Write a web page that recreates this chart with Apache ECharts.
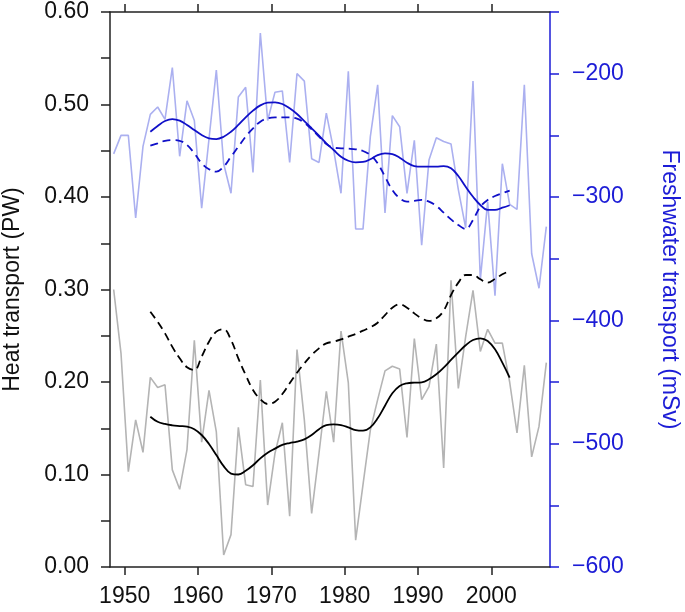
<!DOCTYPE html>
<html>
<head>
<meta charset="utf-8">
<script src="https://cdn.jsdelivr.net/npm/echarts@6.0.0/dist/echarts.min.js"></script>
<style>
html,body{margin:0;padding:0;background:#fff;}
#c{width:685px;height:612px;}
</style>
</head>
<body>
<div id="c"></div>
<script>
// Annual years (plotted at mid-year)
var years = [];
for (var y = 1948; y <= 2007; y++) years.push(y);

// Annual heat transport (PW), grey
var heatAnnual = [0.300,0.231,0.103,0.159,0.124,0.205,0.194,0.197,0.105,0.084,
  0.127,0.245,0.135,0.191,0.146,0.013,0.035,0.151,0.089,0.087,
  0.202,0.067,0.123,0.156,0.055,0.235,0.159,0.058,0.123,0.190,
  0.135,0.255,0.199,0.029,0.089,0.148,0.181,0.212,0.217,0.214,
  0.140,0.247,0.181,0.195,0.241,0.107,0.310,0.193,0.249,0.299,
  0.233,0.257,0.242,0.242,0.200,0.145,0.218,0.119,0.152,0.221];

// Annual freshwater transport (mSv), light blue
var fwAnnual = [-265,-250,-250,-317,-259,-233,-227,-237,-195,-267,
  -222,-238,-309,-253,-197,-273,-297,-219,-211,-280,
  -167,-238,-215,-214,-272,-200,-206,-269,-272,-232,
  -262,-297,-198,-326,-326,-251,-209,-313,-234,-243,
  -297,-254,-339,-270,-252,-255,-257,-294,-325,-206,
  -367,-304,-380,-273,-306,-310,-209,-346,-374,-324];

// Smoothed years
var smoothYears = [];
for (var s = 1953; s <= 2002; s++) smoothYears.push(s);

// Smoothed heat transport, solid black
var heatSmooth = [0.1625,0.157,0.1546,0.1532,0.1524,0.1517,0.149,0.1427,0.133,0.121,
  0.109,0.101,0.100,0.104,0.110,0.1175,0.1236,0.128,0.132,0.134,
  0.1355,0.138,0.1427,0.149,0.1535,0.1542,0.1535,0.151,0.148,0.1474,
  0.151,0.1607,0.1744,0.1878,0.1957,0.1986,0.1993,0.1997,0.2029,0.2083,
  0.2155,0.2238,0.2321,0.2397,0.2454,0.2472,0.2443,0.2353,0.2209,0.2047];

// Smoothed heat transport, dashed black
var heatDashed = [0.276,0.265,0.2526,0.238,0.2256,0.2159,0.213,0.2274,0.2436,0.2544,
  0.257,0.2454,0.2256,0.2076,0.1914,0.1813,0.1762,0.1787,0.187,0.1986,
  0.210,0.2202,0.2292,0.2364,0.2418,0.2436,0.2461,0.249,0.2519,0.2555,
  0.2591,0.2641,0.2724,0.2803,0.284,0.2803,0.2742,0.2688,0.266,0.2688,
  0.2771,0.294,0.3074,0.3157,0.3157,0.311,0.3074,0.3114,0.3164,0.320];

// Smoothed freshwater transport, solid blue
var fwSmooth = [-247.1,-242.4,-238.4,-236.8,-238.1,-241.6,-245.7,-249.7,-252.4,-253,
  -251.1,-247.1,-241.6,-235.4,-230,-225.7,-223.5,-223.2,-224.6,-228.1,
  -232.7,-238.4,-244.3,-250.3,-256.5,-261.9,-267.3,-270.6,-271.9,-271.6,
  -269.4,-266,-264.6,-265.2,-268.1,-272.2,-274.9,-275.4,-275.4,-275.4,
  -274.9,-276.7,-283,-291.7,-299.8,-306.5,-310.5,-310.5,-308.7,-306.7];

// Smoothed freshwater transport, dashed blue
var fwDashed = [-258.4,-256.5,-254.4,-253.8,-254.4,-257.8,-264.6,-272.7,-277.5,-279.5,
  -275.4,-267.3,-259.2,-251.1,-244.3,-238.9,-236.2,-235.4,-235.4,-235.4,
  -236.5,-239.8,-245.1,-251.1,-257,-260,-260.5,-260.8,-261.3,-262.7,
  -266,-272.7,-283.5,-294.3,-301,-303.8,-303.2,-302.4,-303.8,-307.3,
  -312.7,-318.1,-322.7,-325.9,-318.6,-307.9,-302.4,-299.2,-297,-294.9];

// Tick labels
var xTickYears = [1950,1960,1970,1980,1990,2000];
var heatTickLabels = [0,0.1,0.2,0.3,0.4,0.5,0.6];
var fwTickLabels = [-600,-500,-400,-300,-200];

function pair(xs, vs) {
  return vs.map(function (v, i) { return [xs[i] + 0.5, v]; });
}

var FONT = 'Liberation Sans, Arial, Helvetica, sans-serif';
var BLUE = '#1c1cd6';
var chart = echarts.init(document.getElementById('c'), null, {renderer: 'canvas'});

var option = {
  animation: false,
  backgroundColor: '#ffffff',
  grid: {left: 110, right: 135, top: 12, bottom: 45, containLabel: false, outerBoundsMode: 'none'},
  xAxis: [{
    type: 'value', min: 1948, max: 2008, position: 'bottom',
    axisLine: {show: true, lineStyle: {color: '#222', width: 1.5}},
    axisTick: {show: true, inside: false, length: 8, lineStyle: {color: '#222', width: 1.5}, customValues: xTickYears},
    axisLabel: {show: true, margin: 18, fontSize: 23, color: '#111', fontFamily: FONT, customValues: xTickYears,
      formatter: function (v) { return String(Math.round(v)); }},
    splitLine: {show: false}
  }, {
    type: 'value', min: 1948, max: 2008, position: 'top',
    axisLine: {show: true, lineStyle: {color: '#222', width: 1.5}},
    axisTick: {show: true, inside: false, length: 8, lineStyle: {color: '#222', width: 1.5}, customValues: xTickYears},
    axisLabel: {show: false},
    splitLine: {show: false}
  }],
  yAxis: [{
    type: 'value', min: 0, max: 0.6, interval: 0.05, position: 'left',
    name: 'Heat transport (PW)', nameLocation: 'middle', nameGap: 86,
    nameTextStyle: {fontSize: 23, color: '#111', fontFamily: FONT},
    axisLine: {show: true, lineStyle: {color: '#222', width: 1.5}},
    axisTick: {show: true, inside: false, length: 9, lineStyle: {color: '#222', width: 1.5}},
    axisLabel: {show: true, margin: 21, fontSize: 23, color: '#111', fontFamily: FONT,
      formatter: function (v) {
        var r = Math.round(v * 100);
        if (r % 10 !== 0) return '';
        return heatTickLabels.indexOf(r / 100) >= 0 ? (r / 100).toFixed(2) : '';
      }},
    splitLine: {show: false}
  }, {
    type: 'value', min: -600, max: -150, interval: 50, position: 'right',
    name: 'Freshwater transport (mSv)', nameLocation: 'middle', nameGap: 108, nameRotate: -90,
    nameTextStyle: {fontSize: 23, color: BLUE, fontFamily: FONT},
    axisLine: {show: true, lineStyle: {color: BLUE, width: 1.5}},
    axisTick: {show: true, inside: false, length: 9, lineStyle: {color: BLUE, width: 1.5}},
    axisLabel: {show: true, margin: 22, fontSize: 23, color: BLUE, fontFamily: FONT,
      formatter: function (v) {
        var r = Math.round(v);
        return fwTickLabels.indexOf(r) >= 0 ? '\u2212' + Math.abs(r) : '';
      }},
    splitLine: {show: false}
  }],
  series: [{
    type: 'line', name: 'FW annual', yAxisIndex: 1, data: pair(years, fwAnnual),
    symbol: 'none', lineStyle: {color: '#abb0f0', width: 1.6}, z: 1
  }, {
    type: 'line', name: 'Heat annual', yAxisIndex: 0, data: pair(years, heatAnnual),
    symbol: 'none', lineStyle: {color: '#b4b4b4', width: 1.6}, z: 1
  }, {
    type: 'line', name: 'Heat smooth', yAxisIndex: 0, data: pair(smoothYears, heatSmooth),
    symbol: 'none', smooth: 0.4, lineStyle: {color: '#000', width: 1.8}, z: 3
  }, {
    type: 'line', name: 'Heat dashed', yAxisIndex: 0, data: pair(smoothYears, heatDashed),
    symbol: 'none', smooth: 0.4, lineStyle: {color: '#000', width: 1.8, type: [8, 5]}, z: 3
  }, {
    type: 'line', name: 'FW smooth', yAxisIndex: 1, data: pair(smoothYears, fwSmooth),
    symbol: 'none', smooth: 0.4, lineStyle: {color: '#1010c8', width: 1.8}, z: 3
  }, {
    type: 'line', name: 'FW dashed', yAxisIndex: 1, data: pair(smoothYears, fwDashed),
    symbol: 'none', smooth: 0.4, lineStyle: {color: '#1010c8', width: 1.8, type: [8, 5]}, z: 3
  }]
};
chart.setOption(option);
</script>
</body>
</html>
